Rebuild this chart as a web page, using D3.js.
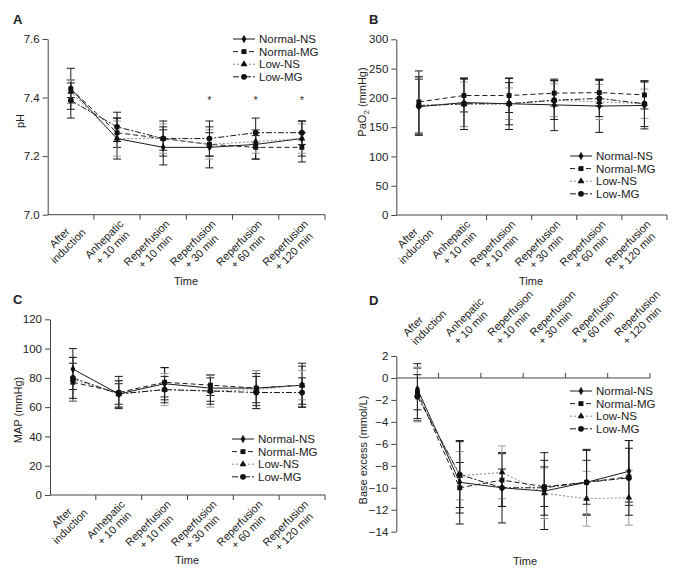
<!DOCTYPE html>
<html>
<head>
<meta charset="utf-8">
<script src="https://cdnjs.cloudflare.com/ajax/libs/d3/7.8.5/d3.min.js"></script>
<style>
body { margin: 0; background: #fff; }
text { font-family: "Liberation Sans", Arial, sans-serif; fill: #222; }
</style>
</head>
<body>
<svg id="chart" width="677" height="572"></svg>
<script>
// time points on the x axis (two lines each)
var timeLabels = [
    ["After", "induction"],
    ["Anhepatic", "+ 10 min"],
    ["Reperfusion", "+ 10 min"],
    ["Reperfusion", "+ 30 min"],
    ["Reperfusion", "+ 60 min"],
    ["Reperfusion", "+ 120 min"]
];
var seriesNames = ["Normal-NS", "Normal-MG", "Low-NS", "Low-MG"];

// A: pH, mean and SD per group (rows follow seriesNames)
var phMean = [
    [7.43, 7.26, 7.23, 7.23, 7.24, 7.26],
    [7.43, 7.28, 7.26, 7.24, 7.23, 7.23],
    [7.42, 7.26, 7.26, 7.24, 7.25, 7.26],
    [7.39, 7.30, 7.26, 7.26, 7.28, 7.28]
];
var phSd = [
    [0.07, 0.07, 0.06, 0.07, 0.05, 0.06],
    [0.03, 0.05, 0.06, 0.04, 0.04, 0.05],
    [0.04, 0.06, 0.05, 0.05, 0.04, 0.05],
    [0.06, 0.05, 0.04, 0.06, 0.05, 0.04]
];
var phTicks = [7.0, 7.2, 7.4, 7.6];
var phStars = ["", "", "", "*", "*", "*"];

// B: PaO2 (mmHg)
var paoMean = [
    [185, 192, 190, 188, 186, 187],
    [193, 204, 204, 208, 209, 205],
    [188, 189, 190, 196, 193, 190],
    [186, 190, 190, 196, 199, 190]
];
var paoSd = [
    [47, 41, 44, 44, 45, 40],
    [53, 28, 29, 22, 23, 24],
    [48, 38, 27, 28, 30, 25],
    [50, 44, 36, 33, 31, 39]
];
var paoTicks = [0, 50, 100, 150, 200, 250, 300];

// C: MAP (mmHg)
var mapMean = [
    [86, 69, 76, 73, 73, 75],
    [77, 70, 77, 75, 73, 75],
    [79, 69, 72, 71, 72, 75],
    [80, 69, 72, 71, 70, 70]
];
var mapSd = [
    [14, 7, 11, 9, 12, 15],
    [13, 11, 10, 7, 10, 13],
    [15, 9, 11, 11, 13, 10],
    [14, 9, 9, 9, 11, 10]
];
var mapTicks = [0, 20, 40, 60, 80, 100, 120];

// D: base excess (mmol/L)
var beMean = [
    [-1.0, -9.5, -10.0, -10.3, -9.5, -8.5],
    [-1.3, -10.0, -9.3, -9.9, -9.5, -9.0],
    [-1.5, -8.9, -8.6, -10.5, -11.0, -10.9],
    [-1.7, -8.8, -10.0, -10.0, -9.5, -9.1]
];
var beSd = [
    [1.9, 3.8, 3.2, 3.5, 3.0, 2.8],
    [2.6, 2.3, 2.4, 1.8, 2.9, 2.6],
    [2.5, 2.2, 2.4, 2.3, 2.5, 2.5],
    [2.0, 3.0, 1.7, 2.5, 2.0, 3.4]
];
var beTicks = [-14, -12, -10, -8, -6, -4, -2, 0, 2];

// look of each group: line, dash, marker
var styles = [
    {color: "#1a1a1a", bar: "#1a1a1a", dash: null, symbol: d3.symbolDiamond, size: 20},
    {color: "#1a1a1a", bar: "#1a1a1a", dash: "5,3", symbol: d3.symbolSquare, size: 24},
    {color: "#8a8a8a", bar: "#9a9a9a", dash: "2,2", symbol: d3.symbolTriangle, size: 20},
    {color: "#1a1a1a", bar: "#1a1a1a", dash: "6,2,2,2", symbol: d3.symbolCircle, size: 26}
];

var svg = d3.select("#chart");

function drawPanel(p) {
    var g = svg.append("g");
    var x = d3.scaleBand().domain(d3.range(timeLabels.length)).range([p.x0, p.x1]);
    var y = d3.scaleLinear().domain(p.domain).range([p.yBot, p.yTop]);
    var cx = function(i) { return x(i) + x.bandwidth() / 2; };
    var baseY = p.axisAt == null ? p.yBot : y(p.axisAt);

    //panel letter
    g.append("text").attr("x", p.letterX).attr("y", p.letterY)
        .attr("font-size", 13).attr("font-weight", "bold").text(p.letter);

    //y axis
    var ya = g.append("g").attr("transform", "translate(" + p.x0 + ",0)")
        .call(d3.axisLeft(y).tickValues(p.ticks).tickSize(5).tickSizeOuter(0).tickPadding(3).tickFormat(p.fmt));
    ya.attr("font-size", 11.5);
    ya.selectAll("path, line").attr("stroke", "#444");

    //x axis: plain line with ticks between the time points
    g.append("line").attr("x1", p.x0).attr("x2", p.x1).attr("y1", baseY).attr("y2", baseY)
        .attr("stroke", "#444");
    g.selectAll("line.xtick").data(timeLabels).enter().append("line")
        .attr("class", "xtick")
        .attr("x1", function(d, i) { return x(i) + x.bandwidth(); })
        .attr("x2", function(d, i) { return x(i) + x.bandwidth(); })
        .attr("y1", baseY)
        .attr("y2", p.labelsTop ? baseY - 5 : baseY + 5)
        .attr("stroke", "#444");

    //rotated time labels
    var lab = g.selectAll("g.xlab").data(timeLabels).enter().append("g")
        .attr("class", "xlab")
        .attr("font-size", 11);
    if (p.labelsTop) {
        lab.attr("transform", function(d, i) { return "translate(" + (cx(i) - 10) + "," + (baseY - 41) + ") rotate(-45)"; });
        lab.selectAll("text").data(function(d) { return d; }).enter().append("text")
            .attr("x", 0).attr("y", function(d, k) { return k * 12; })
            .attr("text-anchor", "start")
            .text(function(d) { return d; });
    } else {
        lab.attr("transform", function(d, i) { return "translate(" + (cx(i) + 7) + "," + (baseY + 10) + ") rotate(-45)"; });
        lab.each(function(d) {
            var grp = d3.select(this);
            var t = grp.selectAll("text").data(d).enter().append("text")
                .attr("y", function(s, k) { return k * 12; })
                .attr("text-anchor", "middle")
                .text(function(s) { return s; });
            var w = d3.max(t.nodes(), function(n) { return n.getComputedTextLength(); });
            t.attr("x", -w / 2);
        });
    }

    //axis titles
    g.append("text").attr("x", p.timeX).attr("y", p.timeY).attr("text-anchor", "middle")
        .attr("font-size", 11).text("Time");
    var yl = g.append("text")
        .attr("transform", "translate(" + p.yLabelX + "," + p.yLabelY + ") rotate(-90)")
        .attr("text-anchor", "middle").attr("dy", "0.35em").attr("font-size", 11);
    if (p.sub) {
        yl.append("tspan").text(p.ylabel[0]);
        yl.append("tspan").attr("font-size", 8).attr("dy", 3).text(p.ylabel[1]);
        yl.append("tspan").attr("dy", -3).text(p.ylabel[2]);
    } else {
        yl.text(p.ylabel);
    }

    //error bars
    p.mean.forEach(function(row, s) {
        var bars = g.append("g").attr("stroke", styles[s].bar).attr("stroke-width", 1);
        row.forEach(function(m, i) {
            var sd = p.sd[s][i];
            bars.append("line").attr("x1", cx(i)).attr("x2", cx(i)).attr("y1", y(m - sd)).attr("y2", y(m + sd));
            bars.append("line").attr("x1", cx(i) - 4).attr("x2", cx(i) + 4).attr("y1", y(m - sd)).attr("y2", y(m - sd));
            bars.append("line").attr("x1", cx(i) - 4).attr("x2", cx(i) + 4).attr("y1", y(m + sd)).attr("y2", y(m + sd));
        });
    });

    //lines
    var line = d3.line().x(function(d, i) { return cx(i); }).y(function(d) { return y(d); });
    p.mean.forEach(function(row, s) {
        g.append("path").datum(row).attr("d", line)
            .attr("fill", "none")
            .attr("stroke", styles[s].color)
            .attr("stroke-width", 1)
            .attr("stroke-dasharray", styles[s].dash);
    });

    //markers
    p.mean.forEach(function(row, s) {
        g.selectAll(null).data(row).enter().append("path")
            .attr("d", d3.symbol().type(styles[s].symbol).size(styles[s].size))
            .attr("transform", function(d, i) { return "translate(" + cx(i) + "," + y(d) + ")"; })
            .attr("fill", "#111");
    });

    //significance marks
    if (p.stars) {
        g.selectAll("text.star").data(p.stars).enter().append("text")
            .attr("class", "star")
            .attr("x", function(d, i) { return cx(i); })
            .attr("y", y(p.starAt))
            .attr("text-anchor", "middle")
            .attr("font-size", 11)
            .style("fill", "#333")
            .text(function(d) { return d; });
    }

    //legend
    var leg = g.selectAll("g.leg").data(seriesNames).enter().append("g")
        .attr("class", "leg")
        .attr("transform", function(d, i) { return "translate(" + p.legX + "," + (p.legY + i * 12.6) + ")"; });
    leg.append("line").attr("x1", 0).attr("x2", 22).attr("y1", 0).attr("y2", 0)
        .attr("stroke", function(d, i) { return styles[i].color; })
        .attr("stroke-dasharray", function(d, i) { return styles[i].dash; });
    leg.append("path")
        .attr("d", function(d, i) { return d3.symbol().type(styles[i].symbol).size(styles[i].size)(); })
        .attr("transform", "translate(11,0)")
        .attr("fill", "#111");
    leg.append("text").attr("x", 26).attr("y", 0).attr("dy", "0.35em")
        .attr("font-size", 11.5)
        .text(function(d) { return d; });
}

drawPanel({
    letter: "A", letterX: 13, letterY: 24,
    x0: 47.7, x1: 325, yTop: 39, yBot: 214.7,
    domain: [7.0, 7.6], ticks: phTicks, fmt: d3.format(".1f"),
    mean: phMean, sd: phSd, stars: phStars, starAt: 7.378,
    ylabel: "pH", yLabelX: 20, yLabelY: 121,
    timeX: 186, timeY: 285,
    legX: 233, legY: 39
});

drawPanel({
    letter: "B", letterX: 369, letterY: 24,
    x0: 396.3, x1: 667, yTop: 39.3, yBot: 215,
    domain: [0, 300], ticks: paoTicks, fmt: d3.format("d"),
    mean: paoMean, sd: paoSd,
    ylabel: ["PaO", "2", " (mmHg)"], sub: true, yLabelX: 362, yLabelY: 102,
    timeX: 531, timeY: 285,
    legX: 570, legY: 156
});

drawPanel({
    letter: "C", letterX: 13, letterY: 304,
    x0: 50, x1: 325, yTop: 319.3, yBot: 495,
    domain: [0, 120], ticks: mapTicks, fmt: d3.format("d"),
    mean: mapMean, sd: mapSd,
    ylabel: "MAP (mmHg)", yLabelX: 18, yLabelY: 410,
    timeX: 187, timeY: 564,
    legX: 232, legY: 439
});

drawPanel({
    letter: "D", letterX: 369, letterY: 305,
    x0: 396.3, x1: 650, yTop: 356, yBot: 531.7,
    domain: [-14, 2], ticks: beTicks, fmt: d3.format("d"), axisAt: 0, labelsTop: true,
    mean: beMean, sd: beSd,
    ylabel: "Base excess (mmol/L)", yLabelX: 363, yLabelY: 450,
    timeX: 525, timeY: 565,
    legX: 570, legY: 391
});
</script>
</body>
</html>
